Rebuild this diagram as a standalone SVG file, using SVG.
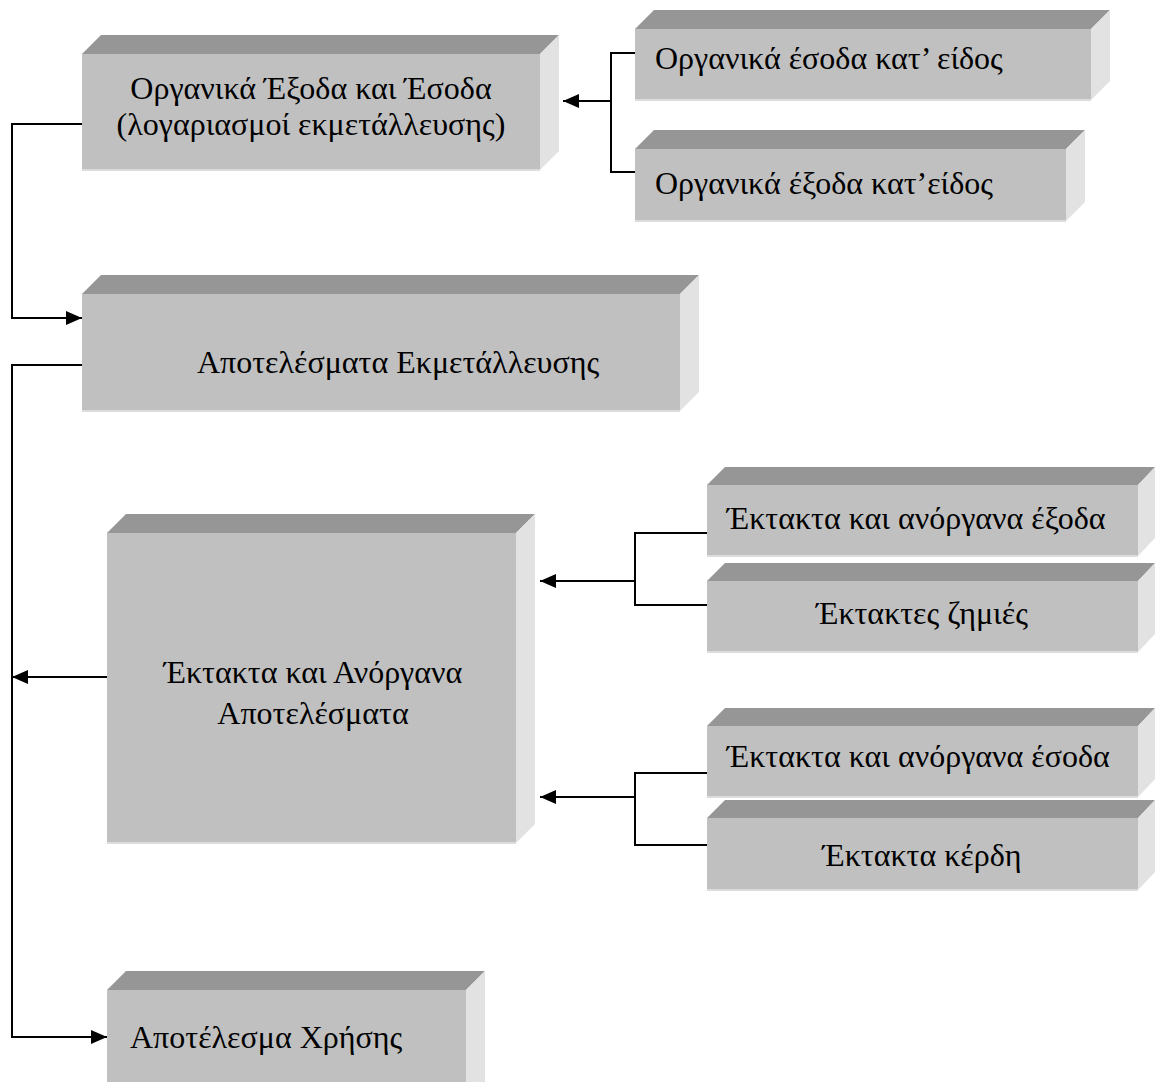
<svg xmlns="http://www.w3.org/2000/svg" width="1155" height="1082" viewBox="0 0 1155 1082">
<style>
.front{fill:#c0c0c0}
.top{fill:#969696}
.side{fill:#e2e2e2}
.edge{stroke:#dcdcdc;stroke-width:2;fill:none}
.t{font-family:"Liberation Serif","Times New Roman",serif;font-size:32px;fill:#000}
.c{text-anchor:middle}
.conn{fill:none;stroke:#000;stroke-width:2}
</style>
<defs>
<marker id="arr" markerUnits="userSpaceOnUse" markerWidth="16" markerHeight="14" refX="16" refY="7" orient="auto">
<path d="M0,0 L16,7 L0,14 Z" fill="#000"/>
</marker>
</defs>
<rect width="1155" height="1082" fill="#fff"/>

<g id="connectors">
<path class="conn" d="M82,124 H12 V318 H82" marker-end="url(#arr)"/>
<path class="conn" d="M82,365 H12 V1037 H107" marker-end="url(#arr)"/>
<path class="conn" d="M107,677 H12" marker-end="url(#arr)"/>
<path class="conn" d="M635,53 H611 V172 H635"/>
<path class="conn" d="M611,101 H563" marker-end="url(#arr)"/>
<path class="conn" d="M707,533 H635 V605 H707"/>
<path class="conn" d="M635,581 H540" marker-end="url(#arr)"/>
<path class="conn" d="M707,773 H635 V845 H707"/>
<path class="conn" d="M635,797 H540" marker-end="url(#arr)"/>
</g>

<g id="n1">
<polygon class="top" points="82,54 101,35 559,35 540,54"/>
<polygon class="side" points="540,54 559,35 559,151 540,170"/>
<rect class="front" x="82" y="54" width="458" height="116"/>
<path class="edge" d="M82,170 H540"/>
<text class="t c" x="311" y="99">Οργανικά Έξοδα και Έσοδα</text>
<text class="t c" x="311" y="135">(λογαριασμοί εκμετάλλευσης)</text>
</g>

<g id="n2">
<polygon class="top" points="635,29 654,10 1110,10 1091,29"/>
<polygon class="side" points="1091,29 1110,10 1110,81 1091,100"/>
<rect class="front" x="635" y="29" width="456" height="71"/>
<path class="edge" d="M635,100 H1091"/>
<text class="t" x="655" y="69">Οργανικά έσοδα κατ’ είδος</text>
</g>

<g id="n3">
<polygon class="top" points="635,149 654,130 1085,130 1066,149"/>
<polygon class="side" points="1066,149 1085,130 1085,202 1066,221"/>
<rect class="front" x="635" y="149" width="431" height="72"/>
<path class="edge" d="M635,221 H1066"/>
<text class="t" x="655" y="194">Οργανικά έξοδα κατ’είδος</text>
</g>

<g id="n4">
<polygon class="top" points="82,294 101,275 699,275 680,294"/>
<polygon class="side" points="680,294 699,275 699,392 680,411"/>
<rect class="front" x="82" y="294" width="598" height="117"/>
<path class="edge" d="M82,411 H680"/>
<text class="t c" x="398" y="373">Αποτελέσματα Εκμετάλλευσης</text>
</g>

<g id="n5">
<polygon class="top" points="107,533 126,514 535,514 516,533"/>
<polygon class="side" points="516,533 535,514 535,824 516,843"/>
<rect class="front" x="107" y="533" width="409" height="310"/>
<path class="edge" d="M107,843 H516"/>
<text class="t c" x="313" y="683">Έκτακτα και Ανόργανα</text>
<text class="t c" x="313" y="724">Αποτελέσματα</text>
</g>

<g id="n6">
<polygon class="top" points="707,485 725,467 1155,467 1138,485"/>
<polygon class="side" points="1138,485 1155,467 1155,538 1138,556"/>
<rect class="front" x="707" y="485" width="431" height="71"/>
<path class="edge" d="M707,556 H1138"/>
<text class="t" x="727" y="529">Έκτακτα και ανόργανα έξοδα</text>
</g>

<g id="n7">
<polygon class="top" points="707,581 725,563 1155,563 1138,581"/>
<polygon class="side" points="1138,581 1155,563 1155,634 1138,652"/>
<rect class="front" x="707" y="581" width="431" height="71"/>
<path class="edge" d="M707,652 H1138"/>
<text class="t c" x="922" y="624">Έκτακτες ζημιές</text>
</g>

<g id="n8">
<polygon class="top" points="707,726 725,708 1155,708 1138,726"/>
<polygon class="side" points="1138,726 1155,708 1155,779 1138,797"/>
<rect class="front" x="707" y="726" width="431" height="71"/>
<path class="edge" d="M707,797 H1138"/>
<text class="t" x="727" y="767">Έκτακτα και ανόργανα έσοδα</text>
</g>

<g id="n9">
<polygon class="top" points="707,818 725,800 1155,800 1138,818"/>
<polygon class="side" points="1138,818 1155,800 1155,872 1138,890"/>
<rect class="front" x="707" y="818" width="431" height="72"/>
<path class="edge" d="M707,890 H1138"/>
<text class="t c" x="922" y="866">Έκτακτα κέρδη</text>
</g>

<g id="n10">
<polygon class="top" points="107,990 126,971 485,971 466,990"/>
<polygon class="side" points="466,990 485,971 485,1082 466,1082"/>
<rect class="front" x="107" y="990" width="359" height="92"/>
<text class="t" x="130" y="1048">Αποτέλεσμα Χρήσης</text>
</g>
</svg>
